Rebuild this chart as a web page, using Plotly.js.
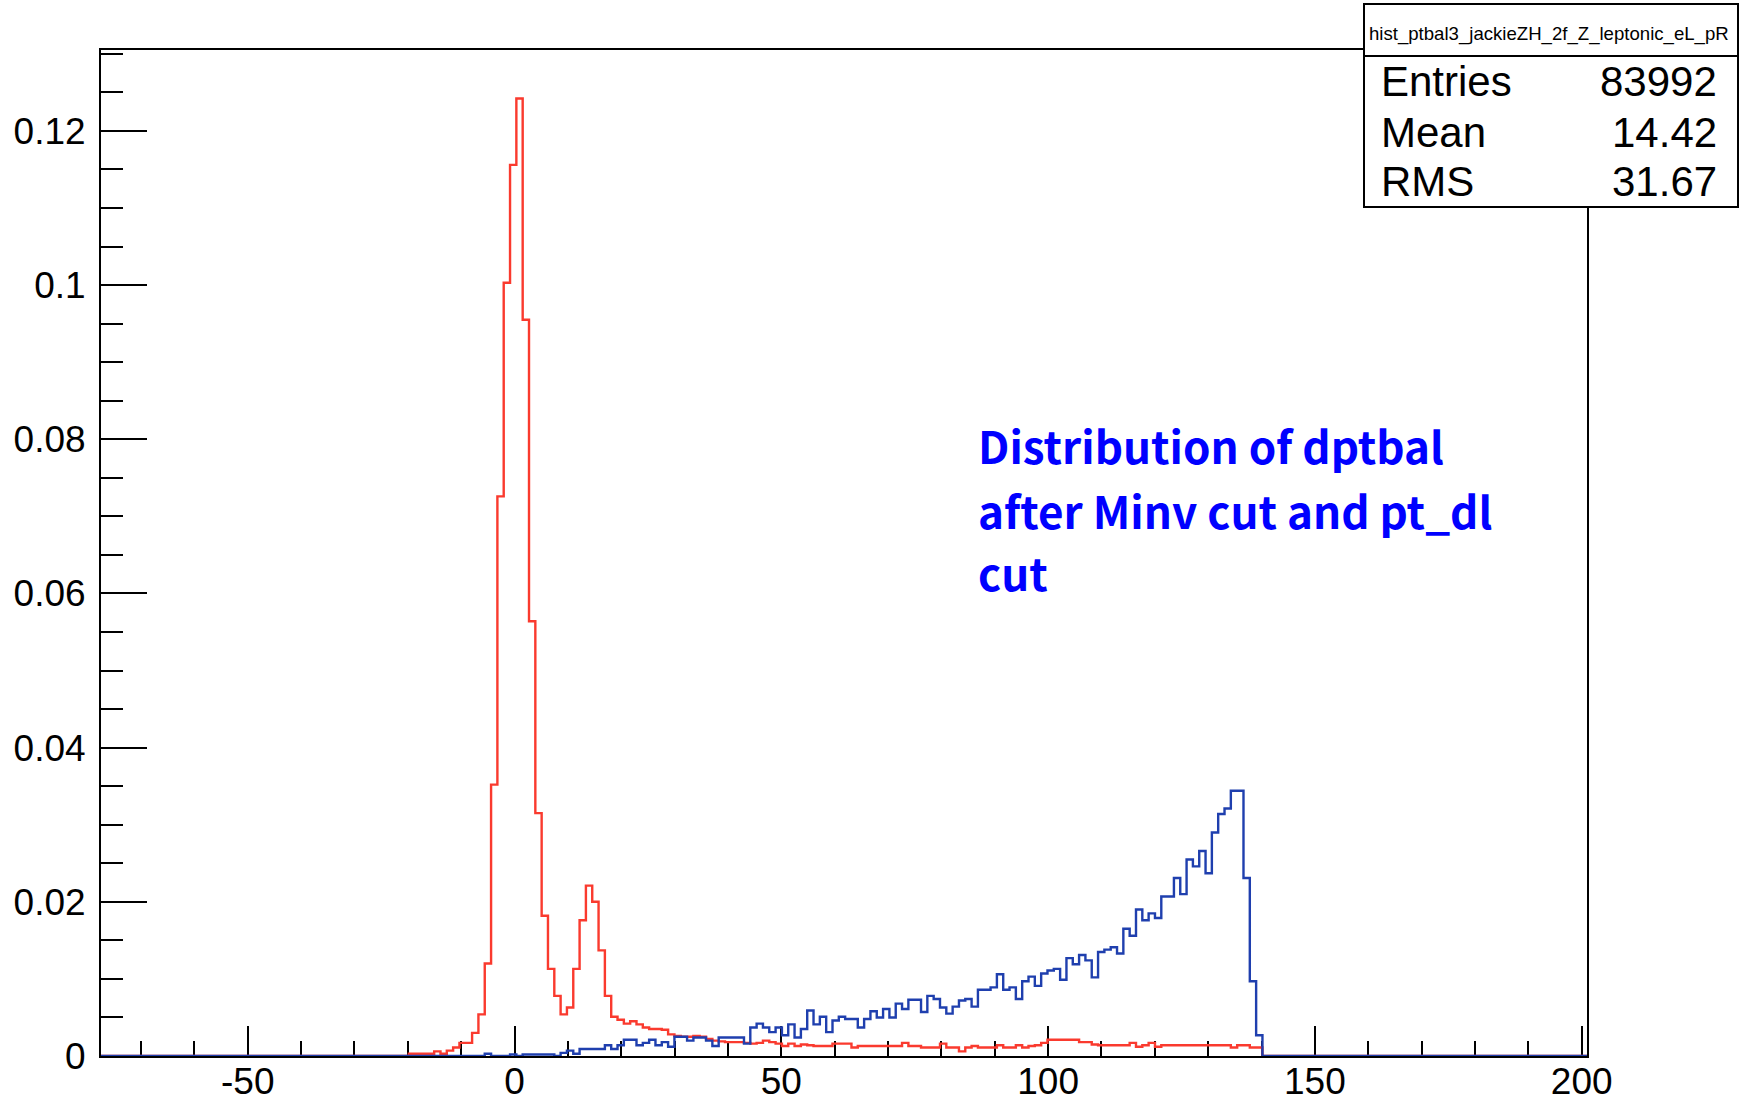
<!DOCTYPE html>
<html>
<head>
<meta charset="utf-8">
<script src="https://cdn.plot.ly/plotly-3.0.1.min.js"></script>
<style>
  html, body { margin: 0; padding: 0; background: #ffffff; }
  #chart { width: 1745px; height: 1102px; }
</style>
</head>
<body>
<div id="chart"></div>
<script>
// Common binning of both dptbal histograms
const binStart = -19.8;
const binWidth = 1.185;

// Normalised contents, 2f Z leptonic background (red)
const redCounts = [
  0.0003, 0.0003, 0.0003, 0.0003, 0.0006, 0.0003, 0.0007, 0.0011, 0.0017, 0.0017,
  0.0030, 0.0054, 0.0120, 0.0352, 0.0726, 0.1003, 0.1156, 0.1242, 0.0955, 0.0564,
  0.0315, 0.0182, 0.0113, 0.0078, 0.0054, 0.0063, 0.0113, 0.0176, 0.0221, 0.0200,
  0.0137, 0.0078, 0.0051, 0.0047, 0.0042, 0.0045, 0.0041, 0.0037, 0.0035, 0.0035,
  0.0034, 0.0028, 0.0026, 0.0025, 0.0025, 0.0026, 0.0025, 0.0022, 0.0020, 0.0019,
  0.0018, 0.0018, 0.0018, 0.0017, 0.0016, 0.0017, 0.0020, 0.0018, 0.0016, 0.0013,
  0.0016, 0.0013, 0.0015, 0.0014, 0.0013, 0.0013, 0.0013, 0.0016, 0.0016, 0.0016,
  0.0011, 0.0013, 0.0013, 0.0013, 0.0013, 0.0013, 0.0013, 0.0013, 0.0017, 0.0013,
  0.0013, 0.0011, 0.0011, 0.0011, 0.0016, 0.0011, 0.0011, 0.0006, 0.0011, 0.0013,
  0.0011, 0.0011, 0.0011, 0.0014, 0.0011, 0.0011, 0.0014, 0.0011, 0.0013, 0.0014,
  0.0017, 0.0021, 0.0021, 0.0021, 0.0021, 0.0021, 0.0018, 0.0018, 0.0015, 0.0014,
  0.0014, 0.0014, 0.0014, 0.0014, 0.0017, 0.0012, 0.0014, 0.0017, 0.0012, 0.0014,
  0.0014, 0.0014, 0.0014, 0.0014, 0.0014, 0.0014, 0.0014, 0.0014, 0.0014, 0.0014,
  0.0011, 0.0014, 0.0014, 0.0011, 0.0011
];

// Normalised contents, ZH signal (blue)
const blueCounts = [
  0, 0, 0, 0, 0, 0, 0, 0, 0, 0,
  0, 0, 0.0003, 0, 0, 0, 0.0002, 0, 0.0002, 0.0002,
  0.0002, 0.0002, 0.0002, 0, 0.0004, 0.0007, 0.0003, 0.0009, 0.0009, 0.0009,
  0.0009, 0.0014, 0.0009, 0.0014, 0.0021, 0.0021, 0.0014, 0.0017, 0.0021, 0.0014,
  0.0018, 0.0012, 0.0025, 0.0025, 0.0020, 0.0024, 0.0024, 0.0020, 0.0013, 0.0024,
  0.0024, 0.0024, 0.0024, 0.0016, 0.0037, 0.0042, 0.0037, 0.0031, 0.0037, 0.0027,
  0.0041, 0.0024, 0.0035, 0.0059, 0.0041, 0.0051, 0.0031, 0.0046, 0.0051, 0.0048,
  0.0048, 0.0037, 0.0048, 0.0058, 0.0050, 0.0061, 0.0050, 0.0068, 0.0061, 0.0073,
  0.0073, 0.0057, 0.0078, 0.0074, 0.0063, 0.0055, 0.0064, 0.0072, 0.0074, 0.0064,
  0.0086, 0.0086, 0.0089, 0.0106, 0.0086, 0.0089, 0.0074, 0.0097, 0.0103, 0.0091,
  0.0107, 0.0111, 0.0113, 0.0099, 0.0127, 0.0119, 0.0131, 0.0124, 0.0102, 0.0135,
  0.0138, 0.0141, 0.0133, 0.0165, 0.0156, 0.0190, 0.0176, 0.0185, 0.0179, 0.0207,
  0.0207, 0.0231, 0.0210, 0.0255, 0.0246, 0.0266, 0.0237, 0.0290, 0.0314, 0.0321,
  0.0344, 0.0344, 0.0231, 0.0097, 0.0027
];

// Axis extents and ticks
const xRange = [-77.5, 201];
const yRange = [0, 0.1305];
const xTickVals = [-50, 0, 50, 100, 150, 200];
const xTickText = ['-50', '0', '50', '100', '150', '200'];
const xMinor = 10;
const yMajor = 0.02, yMinor = 0.005;

// Statistics box contents
const statsTitle = 'hist_ptbal3_jackieZH_2f_Z_leptonic_eL_pR';
const statNames = ['Entries', 'Mean', 'RMS'];
const statValues = ['83992', '14.42', '31.67'];

// Caption lines
const noteLines = ['Distribution of dptbal', 'after Minv cut and pt_dl', 'cut'];

// ---------------------------------------------------------------------------
const W = 1745, H = 1102;
const M = { l: 101, r: 158, t: 50, b: 46 };
const PW = W - M.l - M.r, PH = H - M.t - M.b;
const xp = px => (px - M.l) / PW;          // page pixel -> paper x
const yp = py => (H - M.b - py) / PH;      // page pixel -> paper y

// Outline of a histogram as a step line, running along zero outside the filled bins
function stepTrace(counts, color) {
  const x = [xRange[0], binStart];
  const y = [0, 0];
  counts.forEach((c, i) => { x.push(binStart + i * binWidth); y.push(c); });
  x.push(binStart + counts.length * binWidth); y.push(0);
  x.push(xRange[1]); y.push(0);
  return {
    type: 'scatter', mode: 'lines', x: x, y: y,
    line: { shape: 'hv', color: color, width: 2.4 },
    hoverinfo: 'skip', showlegend: false
  };
}

const sans = 'Liberation Sans, Arial, sans-serif';
const tickFont = { family: sans, size: 37, color: '#000000' };

const axisCommon = {
  showline: true, linecolor: '#000000', linewidth: 2, mirror: true,
  showgrid: false, zeroline: false,
  ticks: 'inside', tickcolor: '#000000', tickwidth: 2,
  tickfont: tickFont, layer: 'below traces', fixedrange: true
};

const layout = {
  width: W, height: H,
  margin: M,
  paper_bgcolor: '#ffffff', plot_bgcolor: '#ffffff',
  showlegend: false,
  xaxis: Object.assign({}, axisCommon, {
    range: xRange, tickmode: 'array', tickvals: xTickVals, ticktext: xTickText, ticklen: 30,
    minor: { dtick: xMinor, tick0: 0, ticks: 'inside', ticklen: 15, tickwidth: 2, tickcolor: '#000000' },
    ticklabelstandoff: -8
  }),
  yaxis: Object.assign({}, axisCommon, {
    range: yRange, tick0: 0, dtick: yMajor, ticklen: 46,
    minor: { dtick: yMinor, tick0: 0, ticks: 'inside', ticklen: 22, tickwidth: 2, tickcolor: '#000000' },
    ticklabelstandoff: 6
  }),
  shapes: [
    { type: 'rect', xref: 'paper', yref: 'paper', layer: 'above',
      x0: xp(1364), x1: xp(1738), y0: yp(207), y1: yp(4),
      line: { color: '#000000', width: 2 }, fillcolor: '#ffffff' },
    { type: 'line', xref: 'paper', yref: 'paper', layer: 'above',
      x0: xp(1364), x1: xp(1738), y0: yp(56), y1: yp(56),
      line: { color: '#000000', width: 2 } }
  ],
  annotations: []
};

// Statistics box text
layout.annotations.push({
  xref: 'paper', yref: 'paper', x: xp(1549), y: yp(34),
  xanchor: 'center', yanchor: 'middle', showarrow: false,
  text: statsTitle,
  font: { family: sans, size: 18.6, color: '#000000' }
});
const rowCenters = [82, 132, 181];
statNames.forEach((name, i) => {
  layout.annotations.push({
    xref: 'paper', yref: 'paper', x: xp(1379), y: yp(rowCenters[i]),
    xanchor: 'left', yanchor: 'middle', showarrow: false, text: name,
    font: { family: sans, size: 42, color: '#000000' }
  });
  layout.annotations.push({
    xref: 'paper', yref: 'paper', x: xp(1719), y: yp(rowCenters[i]),
    xanchor: 'right', yanchor: 'middle', showarrow: false, text: statValues[i],
    font: { family: sans, size: 42, color: '#000000' }
  });
});

// Caption, one annotation per line
const noteTops = [411, 476, 538];
noteLines.forEach((line, i) => {
  layout.annotations.push({
    xref: 'paper', yref: 'paper', x: xp(976), y: yp(noteTops[i]),
    xanchor: 'left', yanchor: 'top', align: 'left', showarrow: false,
    text: line,
    font: { family: 'Noto Sans CJK JP, sans-serif', size: 44, color: '#0000ff', weight: 'bold' }
  });
});

const data = [
  stepTrace(redCounts, '#fa3a2e'),
  stepTrace(blueCounts, '#1f3fae')
];

Plotly.newPlot('chart', data, layout, { displayModeBar: false, staticPlot: true });
</script>
</body>
</html>
